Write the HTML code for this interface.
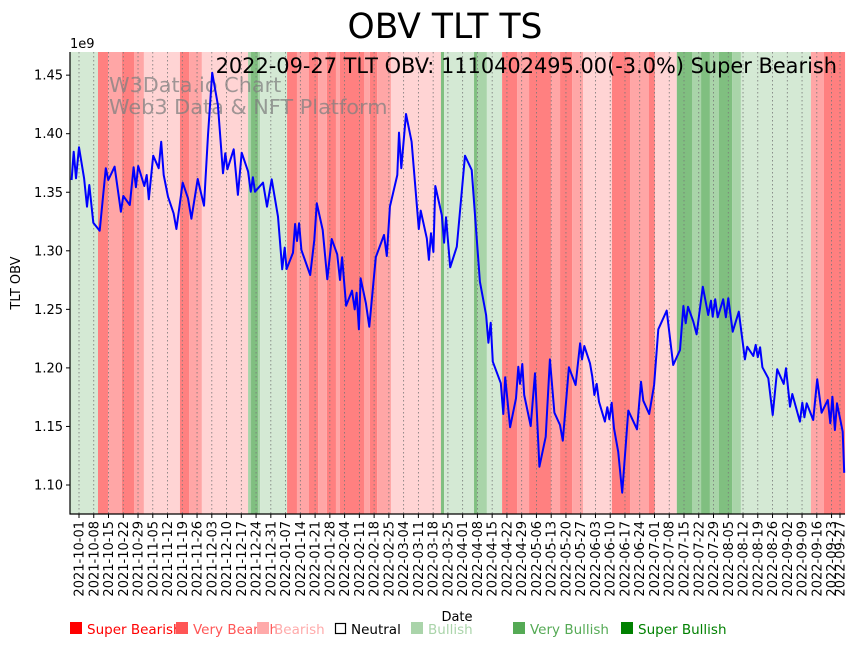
<!DOCTYPE html>
<html><head><meta charset="utf-8">
<style>
html,body{margin:0;padding:0;background:#fff;}
svg{display:block;font-family:"DejaVu Sans","Liberation Sans",sans-serif;}
</style></head>
<body>
<svg id="chart" width="864" height="646" viewBox="0 0 864 646" xmlns="http://www.w3.org/2000/svg">
  <text x="445" y="38" font-size="34.5" text-anchor="middle" fill="#000">OBV TLT TS</text>
  <g id="bands"></g>
  <g id="grid"></g>
  <g fill="#808080" fill-opacity="0.75" font-size="20.8">
    <text x="109" y="92">W3Data.io Chart</text>
    <text x="109" y="114">Web3 Data &amp; NFT Platform</text>
  </g>
  <path id="line" fill="none" stroke="#0000ff" stroke-width="2" stroke-linejoin="round"></path>
  <text x="837" y="73" font-size="20.9" text-anchor="end" fill="#000">2022-09-27 TLT OBV: 1110402495.00(-3.0%) Super Bearish</text>
  <g id="yaxis"></g>
  <g id="xaxis"></g>
  <line x1="70" y1="52" x2="70" y2="514.5" stroke="#000" stroke-width="1.2"/>
  <line x1="69.5" y1="514" x2="845" y2="514" stroke="#000" stroke-width="1.2"/>
  <text x="70" y="48" font-size="13">1e9</text>
  <text x="0" y="0" font-size="13" text-anchor="middle" transform="translate(20,283) rotate(-90)">TLT OBV</text>
  <text x="457" y="621" font-size="13" text-anchor="middle">Date</text>
  <g id="legend" font-size="13.5"></g>
</svg>
<script>
const days = [-3.5,-2.5,-1.4,0,2.4,3.8,4.9,6.8,9.8,12.7,13.9,16.9,19.9,21.0,24.1,25.9,27.0,28.1,31.0,32.1,33.1,35.2,37.8,39.0,40.2,42.2,44.9,46.2,49.2,51.7,53.3,56.3,59.3,61.2,63.2,65.9,68.3,69.4,70.4,73.4,75.4,77.2,80.2,81.5,82.5,83.5,87.3,89.2,91.4,94.4,96.4,97.6,98.5,101.5,102.5,103.4,104.4,105.5,109.7,111.6,112.8,115.6,117.8,119.9,122.5,123.8,124.8,126.7,129.5,130.8,131.7,132.8,133.6,136.1,137.7,140.8,144.7,146.0,147.5,151.0,151.8,152.9,155.1,157.8,161.2,162.1,165.0,166.0,167.0,168.1,169.0,172.1,173.2,174.1,176.1,179.2,183.1,186.3,190.2,193.1,194.2,195.3,196.3,200.1,201.3,202.2,204.5,207.3,208.4,209.2,210.3,211.2,214.3,216.3,218.4,221.4,223.4,225.5,228.2,229.5,232.4,235.6,237.7,238.6,239.7,242.4,243.5,244.5,245.6,246.7,249.5,250.6,251.6,252.7,253.8,255.8,257.7,260.6,264.7,266.6,267.7,270.5,272.8,274.8,278.8,281.9,285.1,286.7,287.8,288.9,291.4,293.0,295.9,298.5,299.8,300.6,301.8,303.0,305.6,306.9,308.0,310.1,313.0,315.9,317.0,319.9,321.0,322.0,323.1,324.2,327.0,329.1,331.2,334.3,335.4,337.3,338.4,342.0,343.1,344.1,345.2,348.3,350.2,352.3,355.2,356.4,357.4,358.6,359.6,362.3,363.0];
const obv = [1.3605,1.3846,1.3619,1.3884,1.3619,1.3377,1.3562,1.3240,1.3172,1.3705,1.3605,1.3718,1.3334,1.3468,1.3391,1.3713,1.3542,1.3724,1.3553,1.3647,1.3440,1.3812,1.3705,1.3932,1.3647,1.3462,1.3320,1.3186,1.3582,1.3448,1.3274,1.3613,1.3385,1.3989,1.4521,1.4245,1.3662,1.3833,1.3696,1.3867,1.3477,1.3838,1.3676,1.3505,1.3628,1.3505,1.3582,1.3377,1.3611,1.3291,1.2842,1.3027,1.2845,1.2984,1.3229,1.3084,1.3235,1.3007,1.2793,1.3092,1.3406,1.3178,1.2757,1.3101,1.2970,1.2751,1.2945,1.2531,1.2659,1.2500,1.2642,1.2330,1.2765,1.2552,1.2352,1.2945,1.3135,1.2956,1.3377,1.3647,1.4009,1.3705,1.4168,1.3932,1.3186,1.3343,1.3107,1.2922,1.3150,1.2990,1.3553,1.3306,1.3069,1.3286,1.2859,1.3035,1.3812,1.3690,1.2736,1.2452,1.2215,1.2386,1.2053,1.1869,1.1606,1.1920,1.1493,1.1740,1.2010,1.1863,1.2033,1.1769,1.1504,1.1954,1.1156,1.1412,1.2073,1.1617,1.1512,1.1378,1.2005,1.1854,1.2210,1.2073,1.2187,1.2039,1.1925,1.1769,1.1863,1.1711,1.1541,1.1664,1.1561,1.1703,1.1484,1.1284,1.0934,1.1635,1.1476,1.1882,1.1720,1.1606,1.1854,1.2330,1.2489,1.2025,1.2153,1.2529,1.2381,1.2523,1.2395,1.2287,1.2693,1.2452,1.2574,1.2437,1.2586,1.2432,1.2586,1.2432,1.2594,1.2309,1.2480,1.2073,1.2181,1.2102,1.2196,1.2091,1.2176,1.2005,1.1911,1.1598,1.1988,1.1863,1.1997,1.1669,1.1777,1.1541,1.1703,1.1578,1.1698,1.1555,1.1903,1.1617,1.1726,1.1527,1.1754,1.1470,1.1698,1.1455,1.1104];
const bandStart = [-4.3,9.0,13.8,20.4,26.1,30.8,47.9,52.2,58.3,80.2,81.6,84.9,85.9,98.7,103.4,109.1,113.4,117.6,121.9,123.8,135.2,138.0,141.4,148.0,171.7,173.2,187.4,188.8,193.5,200.7,207.8,213.5,223.9,228.2,233.9,239.1,252.8,261.4,270.4,273.2,283.6,290.8,295.1,299.3,303.6,309.8,314.0,347.2,353.4];
const bandLevel = [1,-3,-2,-3,-2,-1,-3,-2,-1,2,3,2,1,-3,-2,-3,-2,-3,-2,-3,-2,-3,-2,-1,3,1,3,2,1,-3,-2,-3,-2,-3,-2,-1,-3,-2,-3,-1,3,2,3,2,3,2,1,-2,-3];
const bandEnd = 363.4;
const yTicks = [1.10,1.15,1.20,1.25,1.30,1.35,1.40,1.45];
const legendLabels = ["Super Bearish","Very Bearish","Bearish","Neutral","Bullish","Very Bullish","Super Bullish"];

const NS="http://www.w3.org/2000/svg";
const X0=79, PXD=2.108, Y0=485, PXV=1171;
function xScale(d){return X0+d*PXD;}
function yScale(v){return Y0-(v-1.10)*PXV;}
function mk(tag,attrs,parent){const e=document.createElementNS(NS,tag);for(const k in attrs)e.setAttribute(k,attrs[k]);parent.appendChild(e);return e;}
const bandColors={"-3":"#ff8080","-2":"#ffa6a6","-1":"#ffd4d4","1":"#d4e9d4","2":"#a9d4a9","3":"#80bf80"};

const gB=document.getElementById('bands');
for(let i=0;i<bandStart.length;i++){
  const s=xScale(bandStart[i]); const e=xScale(i+1<bandStart.length?bandStart[i+1]:bandEnd);
  const r=mk('rect',{x:Math.max(70,s),y:52,width:e-Math.max(70,s),height:462,fill:bandColors[bandLevel[i]]},gB);
  
  
}

const start=new Date(Date.UTC(2021,9,1));
const tickDays=[]; for(let d=0; d<=357; d+=7) tickDays.push(d); tickDays.push(361);
const gG=document.getElementById('grid'), gX=document.getElementById('xaxis');
tickDays.forEach(d=>{
  const x=xScale(d);
  const gl=mk('line',{x1:x,y1:52,x2:x,y2:514,stroke:'#777','stroke-width':0.8,'stroke-dasharray':'1.5,2.5'},gG);
  
  
  const t=mk('line',{x1:x,y1:514,x2:x,y2:518,stroke:'#000','stroke-width':1},gX);
  
  
  const dt=new Date(start.getTime()+d*86400000);
  const lab=dt.toISOString().slice(0,10);
  const tx=mk('text',{x:0,y:0,'font-size':13,'text-anchor':'end',transform:`translate(${x+4.5},521) rotate(-90)`},gX);
  tx.textContent=lab;
  
  
});

const gY=document.getElementById('yaxis');
yTicks.forEach(v=>{
  const y=yScale(v);
  const t=mk('line',{x1:66,y1:y,x2:70,y2:y,stroke:'#000','stroke-width':1},gY);
  
  
  const tx=mk('text',{x:63,y:y+4.5,'font-size':13,'text-anchor':'end'},gY);
  tx.textContent=v.toFixed(2);
  
  
});

let dstr='';
for(let i=0;i<days.length;i++){dstr+=(i?'L':'M')+xScale(days[i]).toFixed(1)+','+yScale(obv[i]).toFixed(1);}
document.getElementById('line').setAttribute('d',dstr);

const legX=[70,176,257,334,411,513,621];
const legCol=["#ff0000","#ff5555","#ffaaaa","#000000","#aad4aa","#55aa55","#008000"];
const gL=document.getElementById('legend');
legendLabels.forEach((lab,i)=>{
  const g=mk('g',{},gL);
  
  
  if(i===3) mk('rect',{x:legX[i]+1.5,y:623.5,width:10,height:10,fill:'none',stroke:'#000','stroke-width':1.2},g);
  else mk('rect',{x:legX[i],y:622,width:12,height:12,fill:legCol[i]},g);
  const t=mk('text',{x:legX[i]+17,y:634,fill:legCol[i]},g);
  t.textContent=lab;
});
</script>
</body></html>
